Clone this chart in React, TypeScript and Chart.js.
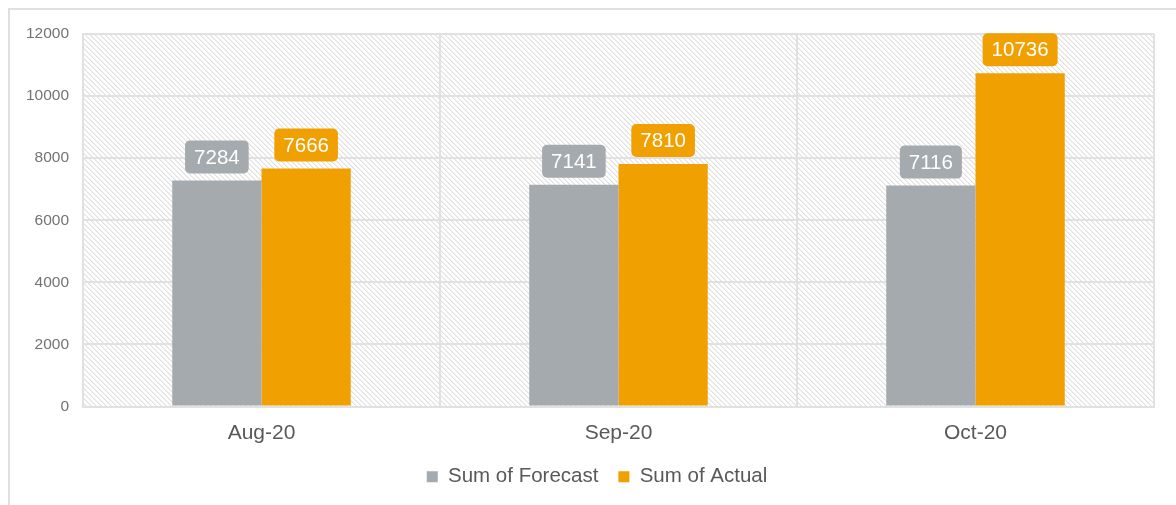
import React, { useEffect, useRef } from "react";
import { Chart, registerables } from "chart.js";

Chart.register(...registerables);

const categories = ["Aug-20", "Sep-20", "Oct-20"];
const forecastValues = [7284, 7141, 7116];
const actualValues = [7666, 7810, 10736];
const seriesNames = ["Sum of Forecast", "Sum of Actual"];
const yTickMin = 0;
const yTickMax = 12000;
const yTickStep = 2000;

const FONT = '"Liberation Sans", Arial, sans-serif';
const GRAY = "#A5AAAE";
const ORANGE = "#F0A000";
const GRID = "#e1e1e1";

function makePattern(ctx: CanvasRenderingContext2D) {
  const size = 5;
  const c = document.createElement("canvas");
  c.width = size;
  c.height = size;
  const g = c.getContext("2d")!;
  g.fillStyle = "#ffffff";
  g.fillRect(0, 0, size, size);
  for (let y = 0; y < size; y++) {
    for (let x = 0; x < size; x++) {
      const m = (((x - y) % size) + size) % size;
      if (m === 0) {
        g.fillStyle = "#e0e0e0";
        g.fillRect(x, y, 1, 1);
      } else if (m === 1) {
        g.fillStyle = "#f0f0f0";
        g.fillRect(x, y, 1, 1);
      }
    }
  }
  return ctx.createPattern(c, "repeat");
}

const hatchPlugin = {
  id: "hatchBg",
  beforeDraw(chart: any) {
    const { ctx, chartArea } = chart;
    if (!chartArea) return;
    ctx.save();
    const p = makePattern(ctx);
    if (p) ctx.fillStyle = p;
    ctx.fillRect(
      chartArea.left,
      chartArea.top,
      chartArea.right - chartArea.left,
      chartArea.bottom - chartArea.top
    );
    ctx.restore();
  },
};

const legendShiftPlugin = {
  id: "legendShift",
  afterLayout(chart: any) {
    const lg = chart.legend;
    if (lg) {
      lg.left += 20;
      lg.right += 20;
    }
  },
};

const boxLabelPlugin = {
  id: "boxLabels",
  afterDatasetsDraw(chart: any) {
    const ctx = chart.ctx as CanvasRenderingContext2D;
    ctx.save();
    ctx.font = `20.5px ${FONT}`;
    chart.data.datasets.forEach((ds: any, di: number) => {
      const meta = chart.getDatasetMeta(di);
      meta.data.forEach((bar: any, i: number) => {
        const text = String(ds.data[i]);
        const tw = ctx.measureText(text).width;
        const w = tw + 18;
        const h = 33;
        const bottom = bar.y - 7;
        ctx.fillStyle = ds.backgroundColor;
        ctx.beginPath();
        (ctx as any).roundRect(bar.x - w / 2, bottom - h, w, h, 5);
        ctx.fill();
        ctx.fillStyle = "#ffffff";
        ctx.textAlign = "center";
        ctx.textBaseline = "middle";
        ctx.fillText(text, bar.x, bottom - h / 2 + 1);
      });
    });
    ctx.restore();
  },
};

export default function App() {
  const ref = useRef<HTMLCanvasElement | null>(null);

  useEffect(() => {
    if (!ref.current) return;
    const chart = new Chart(ref.current, {
      type: "bar",
      data: {
        labels: categories,
        datasets: [
          {
            label: seriesNames[0],
            data: forecastValues,
            backgroundColor: GRAY,
            categoryPercentage: 0.5,
            barPercentage: 1.0,
          },
          {
            label: seriesNames[1],
            data: actualValues,
            backgroundColor: ORANGE,
            categoryPercentage: 0.5,
            barPercentage: 1.0,
          },
        ],
      },
      options: {
        responsive: false,
        animation: false,
        devicePixelRatio: 1,
        layout: { padding: { left: 0, top: 34, right: 22, bottom: 8 } },
        plugins: {
          tooltip: { enabled: false },
          legend: {
            position: "bottom",
            labels: {
              font: { family: FONT, size: 20.5 },
              color: "#595959",
              boxWidth: 11,
              boxHeight: 11,
              padding: 20,
            },
          },
        },
        scales: {
          x: {
            offset: true,
            grid: { display: true, color: GRID, lineWidth: 2, drawTicks: false, offset: true },
            border: { display: true, color: GRID, width: 2 },
            ticks: { font: { family: FONT, size: 21 }, color: "#595959", padding: 14 },
            afterFit: (s: any) => {
              s.height = 40;
            },
          },
          y: {
            min: yTickMin,
            max: yTickMax,
            grid: { color: GRID, lineWidth: 2, drawTicks: false },
            border: { display: true, color: GRID, width: 2 },
            ticks: {
              stepSize: yTickStep,
              font: { family: FONT, size: 15.5 },
              color: "#737373",
              padding: 14,
              callback: (v: any) => String(v),
            },
            afterFit: (s: any) => {
              s.width = 83;
            },
          },
        },
      },
      plugins: [hatchPlugin, legendShiftPlugin, boxLabelPlugin],
    } as any);
    return () => chart.destroy();
  }, []);

  return (
    <div
      style={{
        position: "absolute",
        left: 0,
        top: 0,
        width: 1176,
        height: 505,
        overflow: "hidden",
        background: "#ffffff",
      }}
    >
      <div
        style={{
          position: "absolute",
          left: 8,
          top: 8,
          width: 1300,
          height: 700,
          border: "2px solid #e0e0e0",
          boxSizing: "border-box",
        }}
      />
      <canvas
        ref={ref}
        width={1176}
        height={505}
        style={{ position: "absolute", left: 0, top: 0, width: 1176, height: 505 }}
      />
    </div>
  );
}
